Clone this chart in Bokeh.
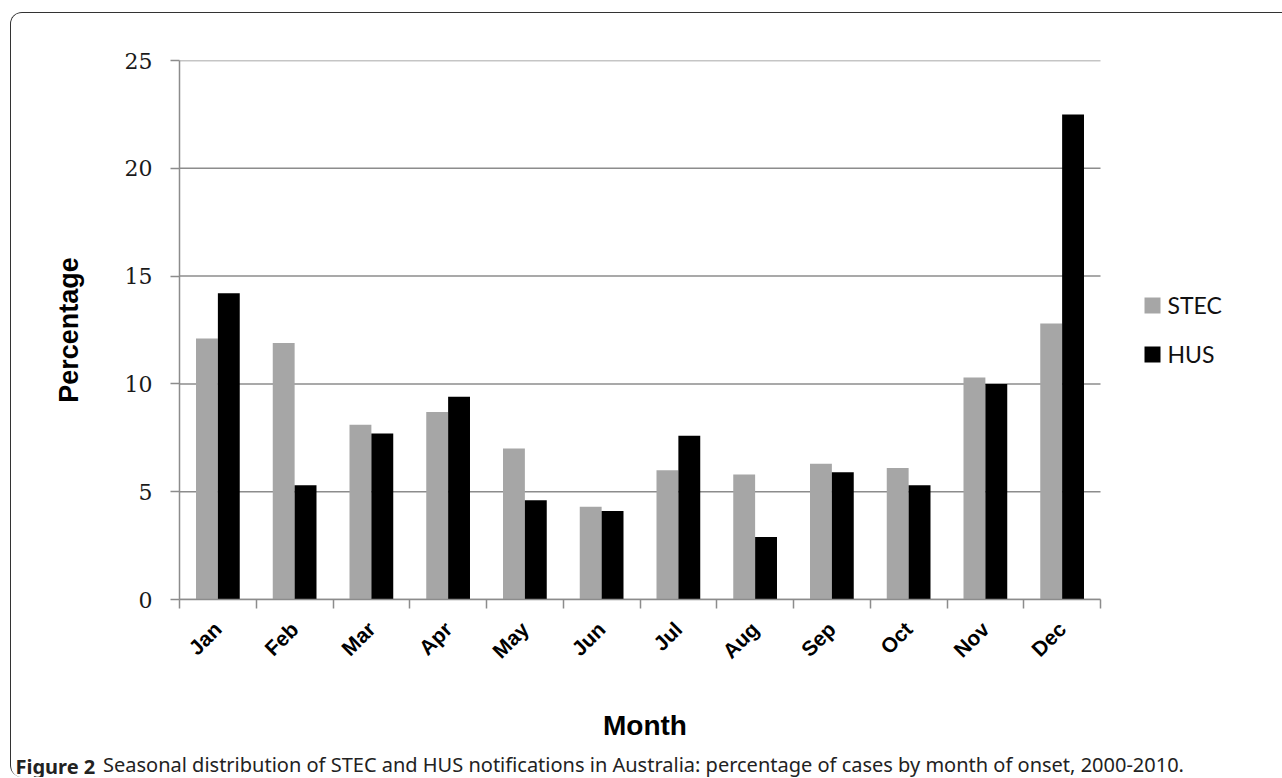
import math
from bokeh.plotting import figure
from bokeh.models import (Range1d, FixedTicker, Legend, LegendItem, Label, Title,
                          ColumnDataSource)
from bokeh.transform import dodge
from bokeh.embed import file_html
from bokeh.resources import INLINE

# ---------------- data ----------------
months = ["Jan", "Feb", "Mar", "Apr", "May", "Jun",
          "Jul", "Aug", "Sep", "Oct", "Nov", "Dec"]
stec = [12.1, 11.9, 8.1, 8.7, 7.0, 4.3, 6.0, 5.8, 6.3, 6.1, 10.3, 12.8]
hus = [14.2, 5.3, 7.7, 9.4, 4.6, 4.1, 7.6, 2.9, 5.9, 5.3, 10.0, 22.5]
series_names = ["STEC", "HUS"]
y_ticks = [0, 5, 10, 15, 20, 25]
x_title = "Month"
y_title = "Percentage"
caption_bold = "Figure 2"
caption_text = ("Seasonal distribution of STEC and HUS notifications in Australia: "
                "percentage of cases by month of onset, 2000-2010.")

n = len(months)
xc = [i + 0.5 for i in range(n)]          # category centres
bounds = list(range(n + 1))               # category boundaries
src = ColumnDataSource(dict(month=months, xc=xc, stec=stec, hus=hus))

GRAY = "#8c8c8c"
PLOT_W = 921          # pixel width of the 12 categories
FRAME_W = 1065        # frame also holds the legend area on the right
FRAME_L = 168
x_end = n * FRAME_W / PLOT_W

p = figure(frame_width=FRAME_W, frame_height=539, output_backend="svg",
           toolbar_location=None,
           x_range=Range1d(0, x_end), y_range=Range1d(0, 25),
           min_border_left=FRAME_L, min_border_right=0,
           min_border_top=47, min_border_bottom=178)
p.styles = {"margin-left": "10px", "margin-top": "12px",
            "border": "1.5px solid #333333", "border-bottom": "none",
            "border-radius": "12px", "overflow": "hidden",
            "box-sizing": "border-box"}
p.outline_line_color = None
p.background_fill_color = "white"
p.border_fill_color = "white"
p.xgrid.visible = False
p.ygrid.visible = False

# horizontal gridlines only across the category area
p.segment(x0=0, x1=n, y0=y_ticks, y1=y_ticks, line_color=GRAY,
          line_width=1.5, level="underlay")

bw = 0.285
r1 = p.vbar(x=dodge("xc", -bw / 2, range=p.x_range), top="stec", width=bw,
            source=src, fill_color="#a6a6a6", line_color=None)
r2 = p.vbar(x=dodge("xc", bw / 2, range=p.x_range), top="hus", width=bw,
            source=src, fill_color="#000000", line_color=None)

# x axis
xa = p.xaxis[0]
xa.bounds = (0, n)
xa.ticker = FixedTicker(ticks=xc, minor_ticks=bounds)
xa.major_label_overrides = {x: m for x, m in zip(xc, months)}
xa.major_label_orientation = math.pi / 4
xa.major_tick_line_color = None
xa.major_tick_out = 0
xa.major_tick_in = 0
xa.minor_tick_out = 9
xa.minor_tick_in = 0
xa.minor_tick_line_color = GRAY
xa.minor_tick_line_width = 1.5
xa.axis_line_color = GRAY
xa.axis_line_width = 1.5
xa.major_label_text_font = "Liberation Sans"
xa.major_label_text_font_style = "bold"
xa.major_label_text_font_size = "21px"
xa.major_label_text_color = "#000000"
xa.major_label_standoff = 17

# y axis
ya = p.yaxis[0]
ya.ticker = FixedTicker(ticks=y_ticks)
ya.minor_tick_line_color = None
ya.major_tick_out = 9
ya.major_tick_in = 0
ya.major_tick_line_color = GRAY
ya.major_tick_line_width = 1.5
ya.axis_line_color = GRAY
ya.axis_line_width = 1.5
ya.major_label_text_font = "DejaVu Serif"
ya.major_label_text_font_size = "22px"
ya.major_label_text_color = "#1a1a1a"
ya.major_label_standoff = 18
ya.axis_label = y_title
ya.axis_label_text_font = "Liberation Sans"
ya.axis_label_text_font_style = "bold"
ya.axis_label_text_font_size = "27px"
ya.axis_label_text_color = "#000000"
ya.axis_label_standoff = 38

legend = Legend(items=[LegendItem(label=series_names[0], renderers=[r1]),
                       LegendItem(label=series_names[1], renderers=[r2])],
                location=(962.5, 231), padding=0, margin=0, spacing=21,
                glyph_width=20, glyph_height=20, label_standoff=6,
                label_text_font="Lato", label_text_font_size="23px",
                label_text_color="#111111",
                border_line_color=None, background_fill_alpha=0)
p.add_layout(legend)

# x-axis title placed over the category area
month_title = Title(text=x_title, align="left", offset=423.5, standoff=68,
                    text_font="Liberation Sans", text_font_style="bold",
                    text_font_size="28px", text_color="#000000")
p.add_layout(month_title, "below")

# caption: regular text (row above the frame, x relative to frame left)
cap2 = Label(x=91.5 - FRAME_L, y=-704, x_units="screen", y_units="screen",
             text=caption_text, text_font="Noto Sans",
             text_font_size="20px", text_color="#222222",
             text_baseline="alphabetic")
p.add_layout(cap2, "above")
# bold lead-in (panel right of the frame, x relative to frame right)
cap1 = Label(x=4.0 - (FRAME_L + FRAME_W), y=-166.5, x_units="screen",
             y_units="screen", text=caption_bold, text_font="Noto Sans",
             text_font_style="bold", text_font_size="20px",
             text_color="#222222", text_baseline="alphabetic")
p.add_layout(cap1, "right")

open("out.html", "w").write(file_html(p, INLINE))
